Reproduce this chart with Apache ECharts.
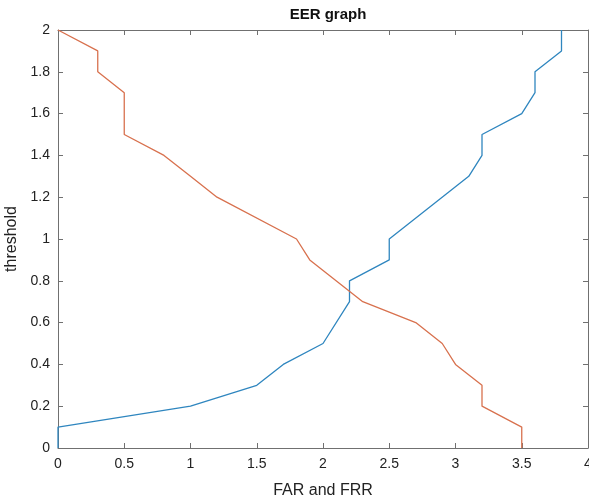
<!DOCTYPE html>
<html>
<head>
<meta charset="utf-8">
<script src="https://cdn.jsdelivr.net/npm/echarts@6/dist/echarts.min.js"></script>
<style>
html,body{margin:0;padding:0;background:#fff;}
#chart{width:589px;height:503px;}
</style>
</head>
<body>
<div id="chart"></div>
<script>
// FAR curve (blue): x = rate, y = threshold
var farX = [0, 0, 0.5, 1.0, 1.5, 1.7, 2.0, 2.2, 2.2, 2.5, 2.5, 3.1, 3.2, 3.2, 3.5, 3.6, 3.6, 3.8, 3.8];
var farY = [0, 0.1, 0.15, 0.2, 0.3, 0.4, 0.5, 0.7, 0.8, 0.9, 1.0, 1.3, 1.4, 1.5, 1.6, 1.7, 1.8, 1.9, 2.0];
// FRR curve (orange)
var frrX = [0, 0.3, 0.3, 0.5, 0.5, 0.8, 1.0, 1.2, 1.8, 1.9, 2.3, 2.7, 2.9, 3.0, 3.2, 3.2, 3.5, 3.5];
var frrY = [2.0, 1.9, 1.8, 1.7, 1.5, 1.4, 1.3, 1.2, 1.0, 0.9, 0.7, 0.6, 0.5, 0.4, 0.3, 0.2, 0.1, 0];
var xTicks = [0, 0.5, 1, 1.5, 2, 2.5, 3, 3.5, 4];
var yTicks = [0, 0.2, 0.4, 0.6, 0.8, 1, 1.2, 1.4, 1.6, 1.8, 2];
var titleText = 'EER graph';
var xName = 'FAR and FRR';
var yName = 'threshold';

function pairs(xs, ys){ return xs.map(function(v,i){ return [v, ys[i]]; }); }

var axisCol = '#707070';
var font = 'Liberation Sans, Arial, sans-serif';
var chart = echarts.init(document.getElementById('chart'));
chart.setOption({
  animation: false,
  title: {
    text: titleText, left: 323, top: 2, textAlign: 'center',
    textStyle: {fontFamily: font, fontSize: 15, fontWeight: 'bold', color: '#111'}
  },
  grid: {left: 58, right: 1, top: 30, bottom: 55, containLabel: false, outerBoundsMode: 'none'},
  xAxis: [{
    type: 'value', min: xTicks[0], max: xTicks[xTicks.length-1], interval: 0.5,
    name: xName, nameLocation: 'middle', nameGap: 35,
    nameTextStyle: {fontFamily: font, fontSize: 16, color: '#222'},
    axisLine: {show: true, lineStyle: {color: axisCol, width: 1}},
    axisTick: {show: true, inside: true, length: 5, lineStyle: {color: axisCol}},
    axisLabel: {fontFamily: font, fontSize: 14, color: '#222', margin: 9, hideOverlap: false},
    splitLine: {show: false}
  }, {
    type: 'value', position: 'top', min: 0, max: 4, interval: 0.5,
    axisLine: {show: true, onZero: false, lineStyle: {color: axisCol, width: 1}},
    axisTick: {show: true, inside: true, length: 5, lineStyle: {color: axisCol}},
    axisLabel: {show: false}, splitLine: {show: false}
  }],
  yAxis: [{
    type: 'value', min: yTicks[0], max: yTicks[yTicks.length-1], interval: 0.2,
    name: yName, nameLocation: 'middle', nameGap: 35,
    nameTextStyle: {fontFamily: font, fontSize: 16, color: '#222'},
    axisLine: {show: true, lineStyle: {color: axisCol, width: 1}},
    axisTick: {show: true, inside: true, length: 5, lineStyle: {color: axisCol}},
    axisLabel: {fontFamily: font, fontSize: 14, color: '#222', margin: 8},
    splitLine: {show: false}
  }, {
    type: 'value', position: 'right', min: 0, max: 2, interval: 0.2,
    axisLine: {show: true, onZero: false, lineStyle: {color: axisCol, width: 1}},
    axisTick: {show: true, inside: true, length: 5, lineStyle: {color: axisCol}},
    axisLabel: {show: false}, splitLine: {show: false}
  }],
  series: [{
    type: 'line', data: pairs(farX, farY), showSymbol: false, symbol: 'none',
    lineStyle: {color: '#2f86bf', width: 1.3}, z: 3
  }, {
    type: 'line', data: pairs(frrX, frrY), showSymbol: false, symbol: 'none',
    lineStyle: {color: '#d8714e', width: 1.3}, z: 4
  }]
});
</script>
</body>
</html>
